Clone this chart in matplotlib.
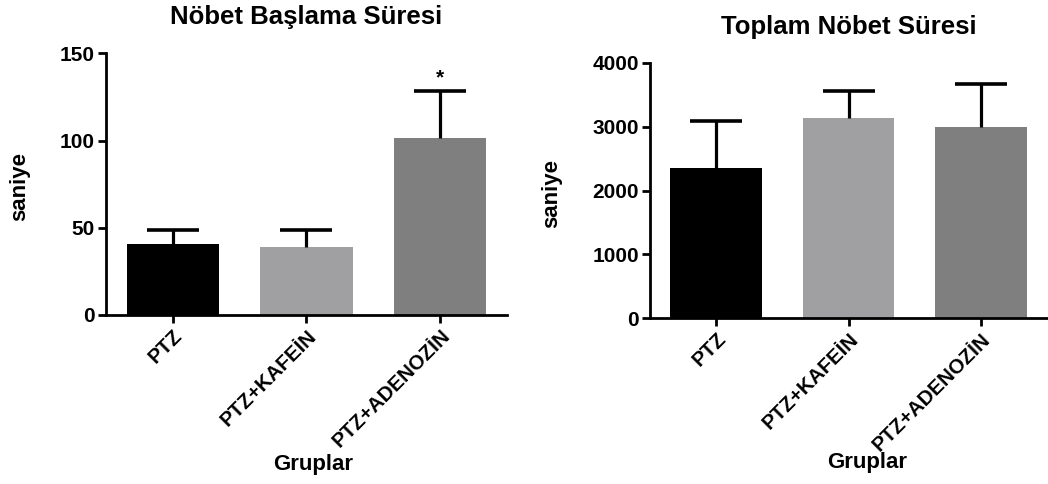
import matplotlib
matplotlib.use("Agg")
import matplotlib.pyplot as plt

plt.rcParams["font.family"] = ["Liberation Sans", "DejaVu Sans"]
plt.rcParams["font.weight"] = "bold"

groups = ["PTZ", "PTZ+KAFEİN", "PTZ+ADENOZİN"]
colors = ["#000000", "#a0a0a2", "#7f7f7f"]

# Nöbet Başlama Süresi (saniye)
onset_mean = [40.5, 38.8, 101.5]
onset_err = [8.2, 9.9, 27.0]

# Toplam Nöbet Süresi (saniye)
total_mean = [2355, 3130, 2990]
total_err = [740, 435, 675]

fig = plt.figure(figsize=(10.48, 4.84), dpi=100)
ax1 = fig.add_axes([0.1011, 0.3492, 0.3826, 0.5407])
ax2 = fig.add_axes([0.6202, 0.3424, 0.3790, 0.5280])


def draw_panel(ax, means, errs, ylim, yticks, title, xlab_pos, ylab_pos):
    x = list(range(len(groups)))
    ax.bar(x, means, width=0.69, color=colors, zorder=2)
    eb = ax.errorbar(x, means, yerr=[[0] * len(errs), errs], fmt="none",
                     ecolor="black", elinewidth=2.3, capsize=19,
                     capthick=2.6, zorder=3)
    eb.lines[1][0].set_visible(False)
    ax.set_xlim(-0.5, 2.5)
    ax.set_ylim(*ylim)
    ax.set_yticks(yticks)
    ax.set_xticks(x)
    ax.set_xticklabels(groups, rotation=45, ha="right", va="top",
                       rotation_mode="anchor", fontsize=14.8, fontweight="bold")
    for lab in ax.get_yticklabels():
        lab.set_fontsize(15)
        lab.set_fontweight("bold")
    for side in ["top", "right"]:
        ax.spines[side].set_visible(False)
    for side in ["left", "bottom"]:
        ax.spines[side].set_linewidth(2.0)
    ax.tick_params(axis="both", width=2.0, length=6, pad=2)
    ax.set_ylabel("saniye", fontsize=16, fontweight="bold")
    ax.yaxis.set_label_coords(*ylab_pos)
    ax.set_xlabel("Gruplar", fontsize=16, fontweight="bold")
    ax.xaxis.set_label_coords(*xlab_pos)
    ax.set_title(title, fontsize=18.5, fontweight="bold", pad=21)


draw_panel(ax1, onset_mean, onset_err, (0, 150), [0, 50, 100, 150],
           "Nöbet Başlama Süresi", (0.516, -0.531), (-0.19, 0.492))
draw_panel(ax2, total_mean, total_err, (0, 4000), [0, 1000, 2000, 3000, 4000],
           "Toplam Nöbet Süresi", (0.547, -0.523), (-0.222, 0.49))

# significance mark
ax1.text(2, onset_mean[2] + onset_err[2] + 1.8, "*", ha="center", va="bottom",
         fontsize=15, fontweight="bold")

fig.savefig("out.png", dpi=100)
